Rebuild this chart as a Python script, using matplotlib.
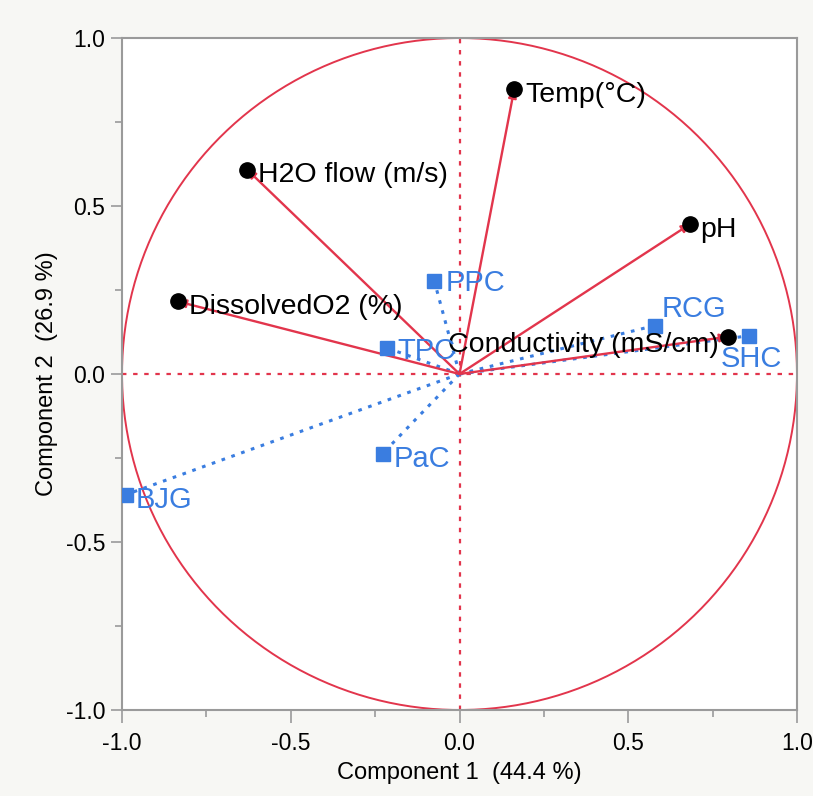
import numpy as np
import matplotlib.pyplot as plt
from matplotlib.ticker import MultipleLocator

plt.rcParams['font.family'] = ['Liberation Sans', 'DejaVu Sans']

# variable loadings (black dots, red arrows)
var_names = ['Temp(°C)', 'H2O flow (m/s)', 'pH', 'DissolvedO2 (%)', 'Conductivity (mS/cm)']
var_x = [0.162, -0.629, 0.683, -0.835, 0.796]
var_y = [0.847, 0.608, 0.446, 0.216, 0.111]

# site scores (blue squares, dotted lines)
site_names = ['PPC', 'TPC', 'PaC', 'BJG', 'RCG', 'SHC']
site_x = [-0.075, -0.216, -0.228, -0.988, 0.578, 0.859]
site_y = [0.278, 0.078, -0.237, -0.359, 0.144, 0.114]

red = '#e2354c'
blue = '#3a7de0'

fig = plt.figure(figsize=(8.13, 7.96), dpi=100, facecolor='#f7f7f4')
ax = fig.add_axes([122 / 813, 86 / 796, 675 / 813, 672 / 796])
ax.set_facecolor('white')

t = np.linspace(0, 2 * np.pi, 400)
ax.plot(np.cos(t), np.sin(t), color=red, lw=1.4, clip_on=False)
ax.axhline(0, color=red, lw=1.6, ls=(0, (2, 3)))
ax.axvline(0, color=red, lw=1.6, ls=(0, (2, 3)))

for x, y in zip(site_x, site_y):
    ax.plot([0, x], [0, y], color=blue, lw=2.2, ls=(0, (1.2, 2.2)))
ax.plot(site_x, site_y, 's', color=blue, ms=10, zorder=5)

for x, y in zip(var_x, var_y):
    ax.annotate('', xy=(x, y), xytext=(0, 0),
                arrowprops=dict(arrowstyle='-|>', color=red, lw=1.7,
                                mutation_scale=12, shrinkA=0, shrinkB=0))
ax.plot(var_x, var_y, 'o', color='black', ms=11, zorder=6)

var_offsets = {
    'Temp(°C)': ((8, -4), 'left'),
    'H2O flow (m/s)': ((8, -4), 'left'),
    'pH': ((7, -4), 'left'),
    'DissolvedO2 (%)': ((8, -4), 'left'),
    'Conductivity (mS/cm)': ((-7, -6), 'right'),
}
for name, x, y in zip(var_names, var_x, var_y):
    off, ha = var_offsets[name]
    ax.annotate(name, (x, y), xytext=off, textcoords='offset points',
                ha=ha, va='center', fontsize=20.5, color='black', zorder=7)

site_offsets = {
    'PPC': ((8, -2), 'left'),
    'TPC': ((8, -2), 'left'),
    'PaC': ((8, -4), 'left'),
    'BJG': ((7, -4), 'left'),
    'RCG': ((5, 12), 'left'),
    'SHC': ((-21, -17), 'left'),
}
for name, x, y in zip(site_names, site_x, site_y):
    off, ha = site_offsets[name]
    ax.annotate(name, (x, y), xytext=off, textcoords='offset points',
                ha=ha, va='center', fontsize=21, color=blue, zorder=7)

ax.set_xlim(-1, 1)
ax.set_ylim(-1, 1)
ax.xaxis.set_major_locator(MultipleLocator(0.5))
ax.yaxis.set_major_locator(MultipleLocator(0.5))
ax.xaxis.set_minor_locator(MultipleLocator(0.25))
ax.yaxis.set_minor_locator(MultipleLocator(0.25))
ax.xaxis.set_major_formatter(lambda v, p: f'{v:.1f}')
ax.yaxis.set_major_formatter(lambda v, p: f'{v:.1f}')
for s in ax.spines.values():
    s.set_color('#9a9a9a')
    s.set_linewidth(1.5)
ax.tick_params(which='both', color='#9a9a9a', width=1.2, labelsize=16.5)
ax.tick_params(axis='x', which='major', length=9, pad=7)
ax.tick_params(axis='y', which='major', length=8, pad=4)
ax.tick_params(which='minor', length=5)
ax.set_xlabel('Component 1  (44.4 %)', fontsize=17, labelpad=5)
ax.set_ylabel('Component 2  (26.9 %)', fontsize=17, labelpad=6)

fig.savefig('out.png', dpi=100, facecolor=fig.get_facecolor())
